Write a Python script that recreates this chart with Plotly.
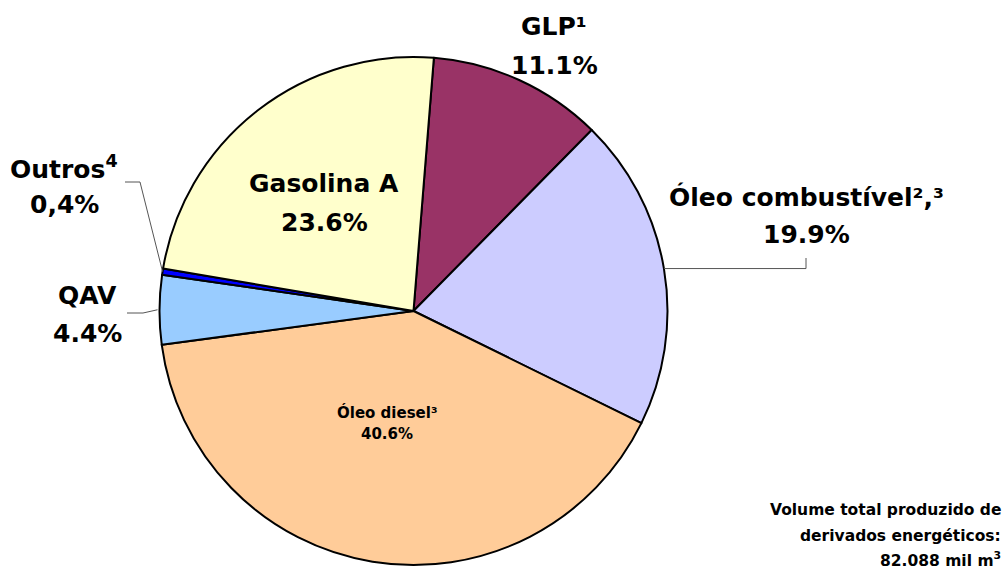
import math
import plotly.graph_objects as go

# ---- data ----
categories = ["GLP¹", "Óleo combustível²,³", "Óleo diesel³", "QAV", "Outros<sup>4</sup>", "Gasolina A"]
shares = [11.1, 19.9, 40.6, 4.4, 0.4, 23.6]
share_text = ["11.1%", "19.9%", "40.6%", "4.4%", "0,4%", "23.6%"]
colors = ["#993366", "#CCCCFF", "#FFCC99", "#99CCFF", "#0000FF", "#FFFFCC"]
note_lines = ["Volume total produzido de", "derivados energéticos:", "82.088 mil m<sup>3</sup>"]

W, H = 1008, 572
cx, cy, R = 413.5, 311.0, 254.0
rotation = 4.6
FONT = "DejaVu Sans, Verdana, sans-serif"

fig = go.Figure(go.Pie(
    labels=categories,
    values=shares,
    sort=False,
    direction="clockwise",
    rotation=rotation,
    marker=dict(colors=colors, line=dict(color="black", width=2)),
    textinfo="none",
    hoverinfo="label+percent",
    showlegend=False,
    domain=dict(x=[(cx - R) / W, (cx + R) / W], y=[1 - (cy + R) / H, 1 - (cy - R) / H]),
))

def px(x):
    return x / W

def py(y):
    return 1 - y / H

# label layout: (centre x, name y, value y, font size)
label_pos = {
    0: (554, 27, 65, 25),
    1: (806, 197, 234, 25),
    2: (387, 412, 434, 15),
    3: (87, 295, 333, 25),
    4: (64, 167, 205, 25),
    5: (324, 183, 222, 25),
}
anns = []
for i, (x, y1, y2, s) in label_pos.items():
    for txt, yy in ((categories[i], y1), (share_text[i], y2)):
        anns.append(dict(
            x=px(x), y=py(yy), xref="paper", yref="paper", showarrow=False,
            text=f"<b>{txt}</b>",
            font=dict(family=FONT, size=s, color="black"),
            xanchor="center", yanchor="middle",
        ))

for txt, yy in zip(note_lines, (510, 536, 559)):
    anns.append(dict(
        x=px(1003), y=py(yy), xref="paper", yref="paper", showarrow=False,
        text=f"<b>{txt}</b>",
        font=dict(family=FONT, size=15.5, color="black"),
        xanchor="right", yanchor="middle",
    ))

# leader lines from slice mid-angles
total = sum(shares)
cum = 0
mids = []
for v in shares:
    mids.append(rotation + 360 * (cum + v / 2) / total)
    cum += v

def edge(i):
    a = math.radians(mids[i])
    return cx + R * math.sin(a), cy - R * math.cos(a)

shapes = []
def seg(x0, y0, x1, y1):
    shapes.append(dict(type="line", xref="paper", yref="paper",
                       x0=px(x0), y0=py(y0), x1=px(x1), y1=py(y1),
                       line=dict(color="#555555", width=1)))

# Óleo combustível
ex, ey = edge(1)
seg(ex, ey, 806, ey)
seg(806, ey, 806, 258)
# QAV
ex, ey = edge(3)
seg(127, 313, 143, 313)
seg(143, 313, ex - 2, ey)
# Outros
ex, ey = edge(4)
seg(125, 182, 140, 182)
seg(140, 182, ex, ey)

fig.update_layout(
    width=W, height=H,
    margin=dict(l=0, r=0, t=0, b=0),
    paper_bgcolor="white", plot_bgcolor="white",
    annotations=anns, shapes=shapes,
)

fig.write_html("out.html", config={"displayModeBar": False},
               post_script="document.body.style.margin='0px';")
